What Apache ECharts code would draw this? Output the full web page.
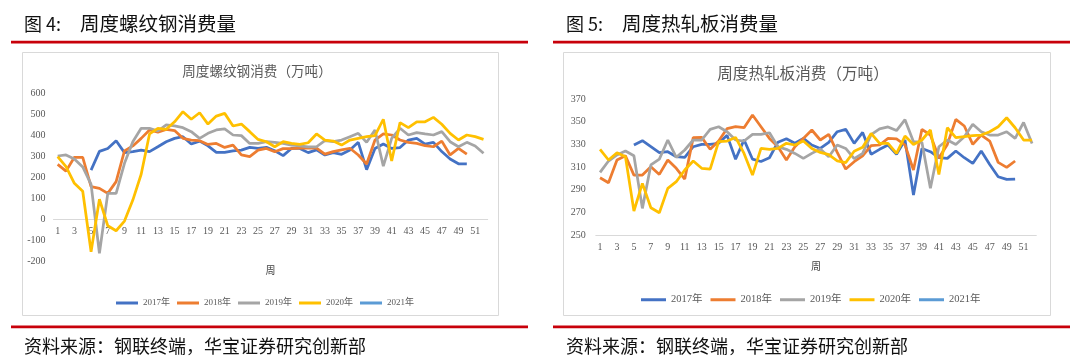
<!DOCTYPE html>
<html><head><meta charset="utf-8">
<script src="https://cdn.jsdelivr.net/npm/echarts@6/dist/echarts.min.js"></script>
<style>html,body{margin:0;padding:0;background:#fff}#c{width:1080px;height:361px}</style>
</head><body><div id="c"></div>
<script>
const weeks = ['1','2','3','4','5','6','7','8','9','10','11','12','13','14','15','16','17','18','19','20','21','22','23','24','25','26','27','28','29','30','31','32','33','34','35','36','37','38','39','40','41','42','43','44','45','46','47','48','49','50','51','52'];
const yearNames = ['2017年','2018年','2019年','2020年','2021年'];
const yearColors = ['#4472C4','#ED7D31','#A5A5A5','#FFC000','#5B9BD5'];
const xAxisName = '周';

// 图4 周度螺纹钢消费（万吨）
const rebar2017 = [null,null,null,null,233,322,336,373,316,321,328,321,344,368,384,392,357,371,348,317,317,324,328,341,336,341,325,302,336,336,316,329,305,316,308,329,365,235,336,357,336,340,376,384,357,365,321,286,263,262];
const rebar2018 = [260,228,294,294,154,146,122,178,324,348,384,424,413,427,421,384,376,373,355,360,341,352,305,297,328,336,320,335,335,338,338,338,309,321,329,337,305,262,376,405,400,376,365,360,349,344,371,305,336,309];
const rebar2019 = [300,305,286,248,165,-163,122,122,265,368,432,432,419,448,443,435,416,384,408,424,429,400,397,360,360,368,365,360,352,348,344,344,373,368,376,392,408,365,424,252,384,432,400,411,405,400,416,368,344,365,348,313];
const rebar2020 = [297,249,170,132,-156,94,-32,-56,-10,90,213,405,432,427,463,511,475,506,452,490,503,443,452,416,379,368,344,368,360,355,363,405,376,371,352,376,384,392,397,475,276,459,435,463,463,484,451,408,376,400,392,379];
const rebar2021 = [];
const rebarMin = -200, rebarMax = 600, rebarStep = 100;

// 图5 周度热轧板消费（万吨）
const hr2017 = [null,null,null,null,329.5,333.3,328,322.7,323.6,319.2,318.6,328,330,330,331,338,317,334,317,315,318.3,332,335,331,335.3,329.5,326.5,331.8,341.2,343.3,330.9,340.6,321.3,325.7,329.5,321.3,333.9,285.4,326.5,323.6,318.3,317.7,324.2,318.3,313.3,324.2,312.4,301.6,299.2,299.5];
const hr2018 = [300.7,296.3,316.3,320,303,303,310.4,303.6,316.3,309,299.5,336,336.2,325.7,333,344,345.6,344.7,355.9,345.6,335.3,328,316.3,328,335.3,342.7,333.9,338.9,323,308.3,314.8,320,328.9,329.5,335.3,334.8,329.5,307.5,343.3,338.3,318,330,352.1,346.2,330,338.3,333,314.2,309.8,315.4];
const hr2019 = [305.4,315.4,320.7,324.2,320,273.7,311.9,317.1,333.9,318.6,325.1,333.9,333.9,343.3,345.6,341.2,333.9,333,338.9,338.9,340.3,328,325.7,322.1,317.7,322.1,326,319.2,329.5,326.5,317.5,322.1,338.6,343.7,345.4,342.2,351.8,332.4,331.8,291.5,328,333.9,330,336.8,347.7,341.2,338.3,338.3,341.2,335.3,349.4,330.9];
const hr2020 = [325.7,316.3,322.7,319.2,271.4,295.7,274.3,269.9,291.3,297.2,307.5,315.4,309,308.3,332.4,333,336.2,322.1,303,326.5,325.7,326.5,331,329.5,333,326.5,323,321,315.5,314,324,327.5,339.7,330.9,330.9,322.1,337.4,330,333.9,342.7,303.6,344.7,335.9,336.8,337.7,338.3,341.2,345.6,353.5,344.7,333.9,333.9];
const hr2021 = [];
const hrMin = 250, hrMax = 370, hrLabelStep = 20;

const SERIF = "'Liberation Serif','Times New Roman','Noto Sans CJK SC',serif";
const CJK = "'Noto Sans CJK SC','Noto Sans',sans-serif";
const LABEL = '#595959';

// left grid: 168 px for 800 units; zero line sits 200 units above the bottom
const leftGridH = 168;
const zeroOffset = -leftGridH * (0 - rebarMin) / (rebarMax - rebarMin);

function mkSeries(datas, idx) {
  return datas.map((d, i) => ({
    name: yearNames[i], type: 'line', data: d, xAxisIndex: idx, yAxisIndex: idx,
    symbol: 'none', showSymbol: false, connectNulls: false,
    lineStyle: { width: 2.75, color: yearColors[i] }, itemStyle: { color: yearColors[i] },
    z: 2 + i, emphasis: { disabled: true }
  }));
}

function txt(x, y, text, font, fill, align) {
  return { type: 'text', x: x, y: y, silent: true,
    style: { text: text, font: font, fill: fill, align: align || 'left', textAlign: align || 'left', verticalAlign: 'middle', textVerticalAlign: 'middle' } };
}
function rect(x, y, w, h, fill, stroke) {
  return { type: 'rect', silent: true, shape: { x: x, y: y, width: w, height: h },
    style: stroke ? { fill: 'none', stroke: stroke, lineWidth: 1 } : { fill: fill } };
}

const chart = echarts.init(document.getElementById('c'), null, { renderer: 'canvas' });
chart.setOption({
  backgroundColor: '#ffffff',
  animation: false,
  color: yearColors,
  graphic: { elements: [
    rect(22.5, 52.5, 476, 263, null, '#d9d9d9'),
    rect(563.5, 52.5, 487, 263, null, '#d9d9d9'),
    rect(11, 40.8, 517, 2.6, '#c8000a'),
    rect(553, 40.8, 517, 2.6, '#c8000a'),
    rect(11, 325.6, 517, 2.6, '#c8000a'),
    rect(553, 325.6, 517, 2.6, '#c8000a'),
    txt(24, 24, '图 4:', '18px ' + CJK, '#111'),
    txt(80, 24, '周度螺纹钢消费量', '19.5px ' + CJK, '#111'),
    txt(566, 24, '图 5:', '18px ' + CJK, '#111'),
    txt(622, 24, '周度热轧板消费量', '19.5px ' + CJK, '#111'),
    txt(24, 346, '资料来源：钢联终端，华宝证券研究创新部', '18px ' + CJK, '#111'),
    txt(566, 346, '资料来源：钢联终端，华宝证券研究创新部', '18px ' + CJK, '#111'),
    txt(257, 70.7, '周度螺纹钢消费（万吨）', '13.6px ' + CJK, LABEL, 'center'),
    txt(803, 72.7, '周度热轧板消费（万吨）', '15.6px ' + CJK, LABEL, 'center'),
    txt(270.6, 270, xAxisName, '10px ' + CJK, '#404040', 'center')
  ]},
  legend: [
    { left: 116, top: 298.5, padding: 0, itemWidth: 22, itemHeight: 3, itemGap: 7, icon: 'rect',
      textStyle: { fontSize: 9, color: LABEL, fontFamily: SERIF }, data: yearNames, selectedMode: false },
    { left: 641, top: 294.5, padding: 0, itemWidth: 25, itemHeight: 3, itemGap: 8, icon: 'rect',
      textStyle: { fontSize: 10.5, color: LABEL, fontFamily: SERIF }, data: yearNames, selectedMode: false }
  ],
  grid: [
    { left: 53.5, top: 93, width: 434.2, height: leftGridH, containLabel: false, outerBoundsMode: 'none' },
    { left: 595.8, top: 99, width: 440.5, height: 136.3, containLabel: false, outerBoundsMode: 'none' }
  ],
  xAxis: [
    { type: 'category', gridIndex: 0, data: weeks, boundaryGap: true, position: 'bottom', offset: zeroOffset,
      axisLine: { onZero: false, lineStyle: { color: '#d9d9d9', width: 1 } }, axisTick: { show: false },
      axisLabel: { interval: 1, margin: 7, fontSize: 10, color: LABEL, fontFamily: SERIF },
      splitLine: { show: false } },
    { type: 'category', gridIndex: 1, data: weeks, boundaryGap: true,
      axisLine: { onZero: false, lineStyle: { color: '#d9d9d9', width: 1 } }, axisTick: { show: false },
      axisLabel: { interval: 1, margin: 7, fontSize: 10, color: LABEL, fontFamily: SERIF },
      splitLine: { show: false },
      name: xAxisName, nameLocation: 'middle', nameGap: 26, nameTextStyle: { fontSize: 10, color: '#404040', fontFamily: CJK } }
  ],
  yAxis: [
    { type: 'value', gridIndex: 0, min: rebarMin, max: rebarMax, interval: rebarStep,
      axisLine: { show: false }, axisTick: { show: false }, splitLine: { show: false },
      axisLabel: { margin: 8, fontSize: 10, color: LABEL, fontFamily: SERIF } },
    { type: 'value', gridIndex: 1, min: hrMin, max: hrMax, interval: 10,
      axisLine: { show: false }, axisTick: { show: false }, splitLine: { show: false },
      axisLabel: { margin: 10, fontSize: 10, color: LABEL, fontFamily: SERIF,
        formatter: v => ((v - hrMin) % hrLabelStep === 0 ? String(v) : '') } }
  ],
  series: [].concat(
    mkSeries([rebar2017, rebar2018, rebar2019, rebar2020, rebar2021], 0),
    mkSeries([hr2017, hr2018, hr2019, hr2020, hr2021], 1)
  )
});
</script></body></html>
